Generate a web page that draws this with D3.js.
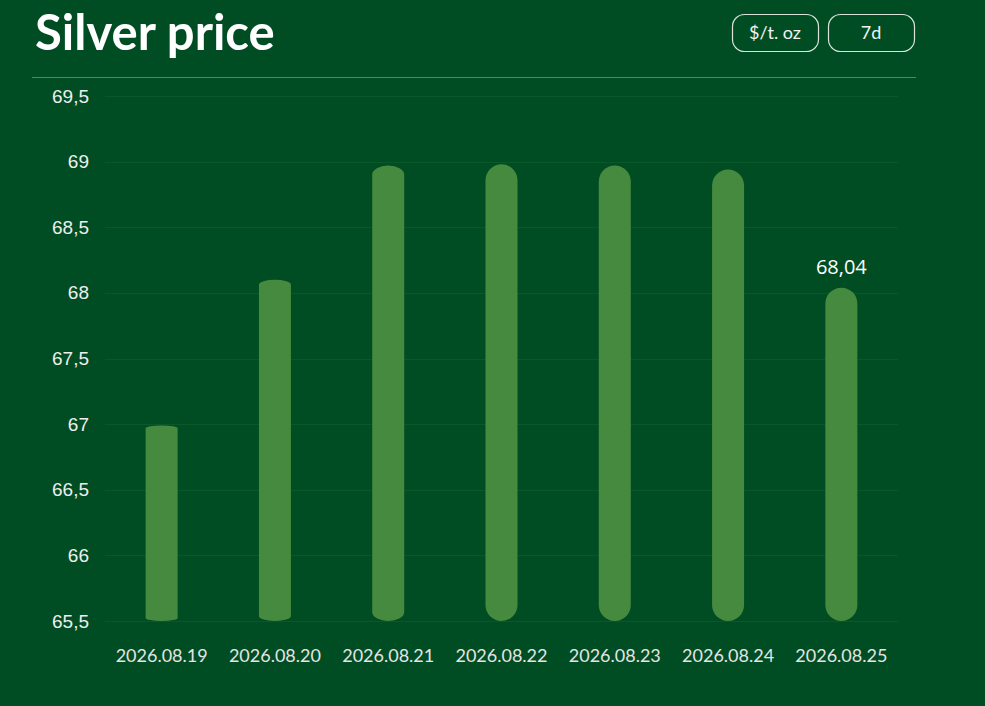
<!DOCTYPE html>
<html>
<head>
<meta charset="utf-8">
<script src="https://cdn.jsdelivr.net/npm/d3@7"></script>
<style>
  html, body { margin: 0; padding: 0; background: #004d23; }
  #chart { width: 985px; height: 706px; }
</style>
</head>
<body>
<div id="chart"></div>
<script>
// Data
var dates = ["2026.08.19", "2026.08.20", "2026.08.21", "2026.08.22", "2026.08.23", "2026.08.24", "2026.08.25"];
var prices = [66.99, 68.10, 68.97, 68.98, 68.97, 68.94, 68.04];
var yTicks = [65.5, 66, 66.5, 67, 67.5, 68, 68.5, 69, 69.5];
var buttons = ["$/t. oz", "7d"];

// vertical radius of the bar caps, the ends get rounder bar by bar
var capRy = [3, 5, 9, 16, 16, 16, 16];

var W = 985, H = 706;
var svg = d3.select("#chart").append("svg")
  .attr("width", W).attr("height", H);

svg.append("rect").attr("width", W).attr("height", H).attr("fill", "#004d23");

// title
svg.append("text")
  .attr("x", 35).attr("y", 50)
  .attr("fill", "#ffffff")
  .style("font-family", "Lato, sans-serif")
  .style("font-weight", 700)
  .style("font-size", "49px")
  .text("Silver price");

// pill buttons
var btnX = [732, 828], btnW = 86;
var btn = svg.selectAll("g.btn").data(buttons).join("g")
  .attr("class", "btn")
  .attr("transform", (d, i) => `translate(${btnX[i]}, 14)`);
btn.append("rect")
  .attr("x", 0.5).attr("y", 0.5)
  .attr("width", btnW).attr("height", 37)
  .attr("rx", 12)
  .attr("fill", "none")
  .attr("stroke", "#d9e3d9").attr("stroke-width", 1.2);
btn.append("text")
  .attr("x", btnW / 2).attr("y", 25)
  .attr("text-anchor", "middle")
  .attr("fill", "#f2f2f2")
  .style("font-family", "Lato, sans-serif")
  .style("font-weight", 400)
  .style("font-size", "18px")
  .text(d => d);

// divider
svg.append("line")
  .attr("x1", 32).attr("x2", 916)
  .attr("y1", 77.5).attr("y2", 77.5)
  .attr("stroke", "#4f8f45").attr("stroke-width", 1);

// scales
var x = d3.scaleBand().domain(dates).range([105, 898]).padding(0);
var y = d3.scaleLinear().domain([65.5, 69.5]).range([621, 96]);
var barW = 32;

// grid lines
svg.append("g").selectAll("line").data(yTicks).join("line")
  .attr("x1", 105).attr("x2", 898)
  .attr("y1", d => Math.round(y(d)) + 0.5)
  .attr("y2", d => Math.round(y(d)) + 0.5)
  .attr("stroke", "#0a5829").attr("stroke-width", 1);

// y axis labels
var yAxis = d3.axisLeft(y).tickValues(yTicks).tickSize(0).tickPadding(0)
  .tickFormat(d => String(d).replace(".", ","));
svg.append("g")
  .attr("transform", "translate(89,0)")
  .call(yAxis)
  .call(g => g.select(".domain").remove())
  .selectAll("text")
    .attr("fill", "#eeeeee")
    .style("font-family", "'Liberation Sans', Arial, sans-serif")
    .style("font-size", "19px");

// x axis labels
var xAxis = d3.axisBottom(x).tickSize(0).tickPadding(0);
svg.append("g")
  .attr("transform", "translate(0,649)")
  .call(xAxis)
  .call(g => g.select(".domain").remove())
  .selectAll("text")
    .attr("fill", "#e4e4e4")
    .attr("dy", "0.7em")
    .style("font-family", "Lato, sans-serif")
    .style("font-weight", 400)
    .style("font-size", "18px");

// bars: rect with elliptical caps top and bottom
function barPath(d, i) {
  var x0 = x(dates[i]) + x.bandwidth() / 2 - barW / 2;
  var x1 = x0 + barW;
  var top = y(d), bot = y(65.5);
  var rx = barW / 2, ry = capRy[i];
  return `M${x0},${top + ry}` +
    `A${rx},${ry} 0 0 1 ${x1},${top + ry}` +
    `L${x1},${bot - ry}` +
    `A${rx},${ry} 0 0 1 ${x0},${bot - ry}Z`;
}
svg.append("g").selectAll("path").data(prices).join("path")
  .attr("d", barPath)
  .attr("fill", "#468a3f");

// label on the last bar
var last = prices.length - 1;
svg.append("text")
  .attr("x", x(dates[last]) + x.bandwidth() / 2)
  .attr("y", y(prices[last]) - 14)
  .attr("text-anchor", "middle")
  .attr("fill", "#ffffff")
  .style("font-family", "'Open Sans', sans-serif")
  .style("font-size", "20px")
  .text(String(prices[last].toFixed(2)).replace(".", ","));
</script>
</body>
</html>
